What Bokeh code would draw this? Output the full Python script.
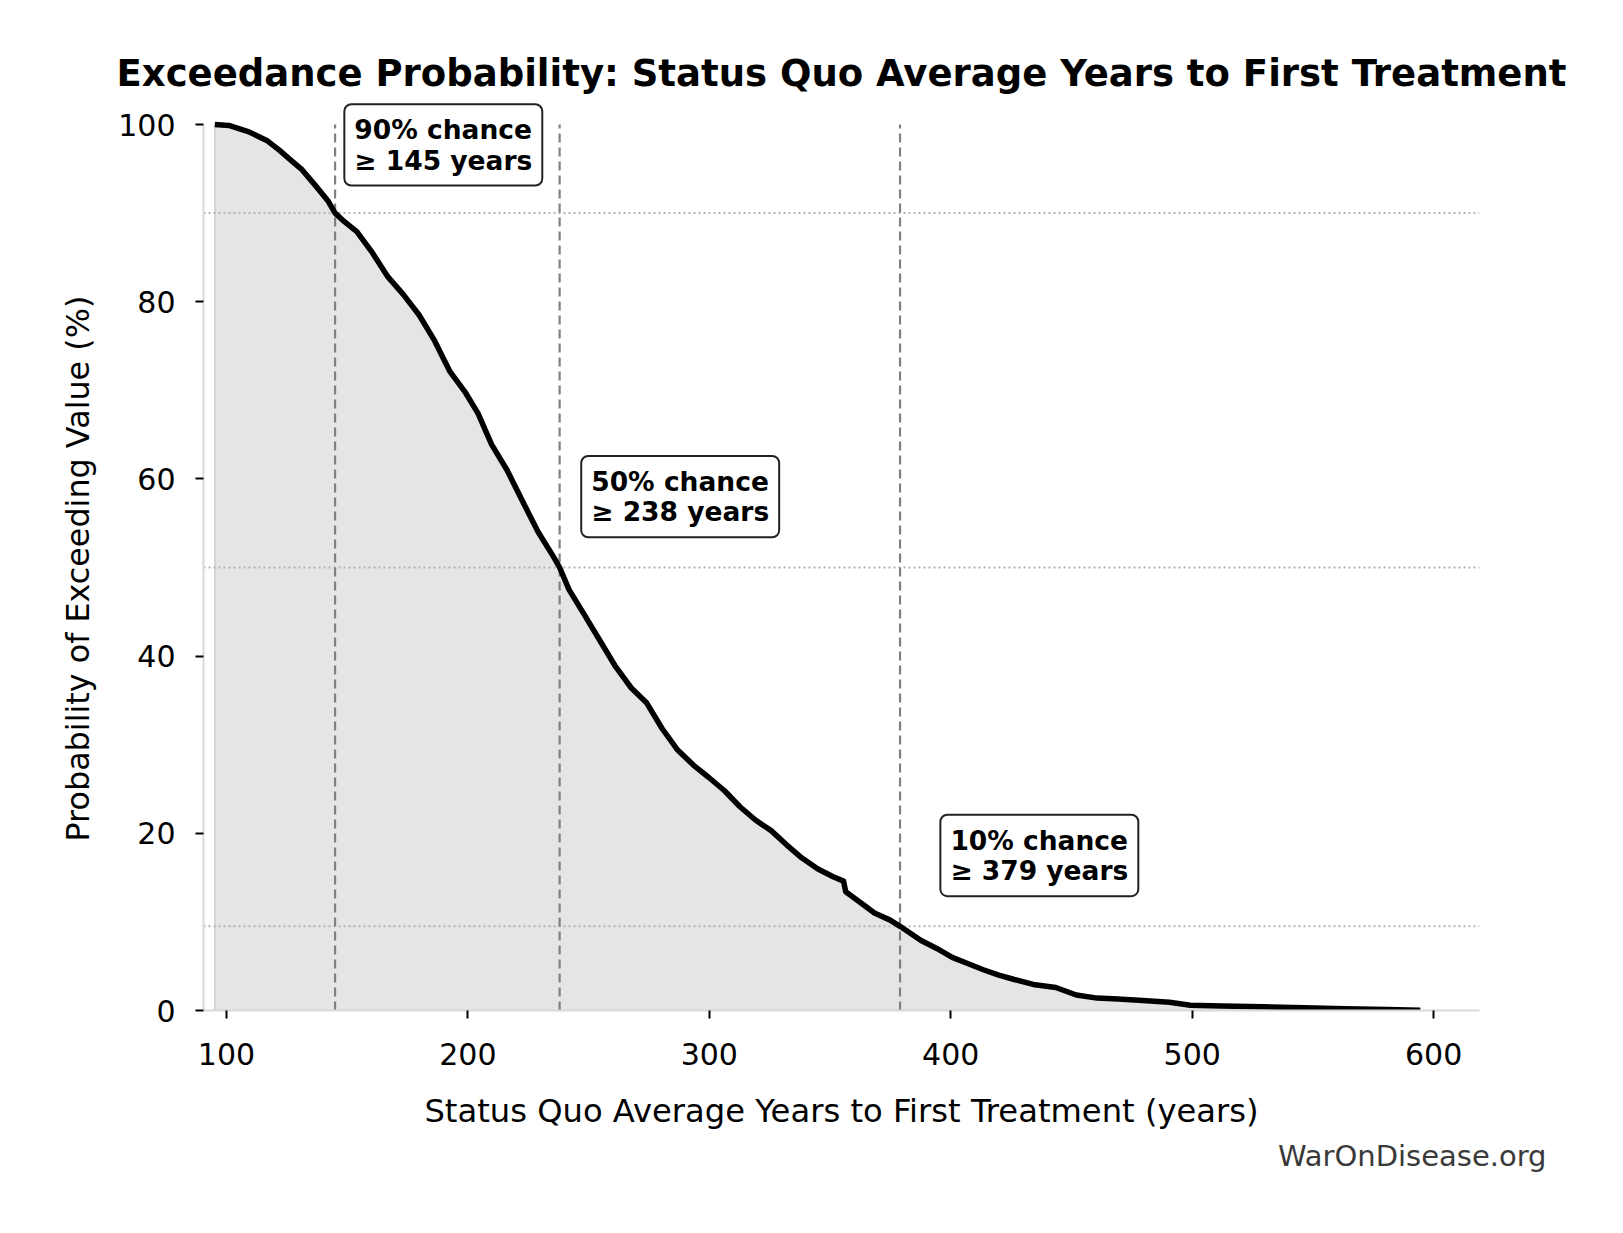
from bokeh.plotting import figure
from bokeh.models import Range1d, FixedTicker, Label, Title
from bokeh.core.properties import value
from bokeh.embed import file_html
from bokeh.resources import INLINE

# ---- data ----
years = [95.2, 101, 109, 116.7, 121.9, 127, 131.3, 136.9, 142, 145, 149, 154, 160.5,
         166.9, 173.3, 179.8, 186.2, 192.6, 199.1, 204.2, 209.8, 216.2, 222.6, 229.1,
         235.5, 238, 241.9, 248.4, 254.8, 261.2, 267.7, 274.1, 280.5, 286.9, 293.4,
         299.8, 306.3, 312.7, 319.1, 325.6, 332, 338.4, 344.8, 351.3, 355.6, 356.5,
         362, 368.4, 374.9, 379, 387.7, 394.2, 400.6, 407, 413.5, 419.9, 426.3, 434.9,
         443.5, 452, 460.6, 469.2, 477.8, 490.6, 499.2, 512, 529.2, 546.4, 563.5,
         580.7, 594.5]
exceed_pct = [100, 99.9, 99.2, 98.2, 97.1, 95.9, 94.9, 93.1, 91.4, 90, 89.0, 87.9, 85.5,
              82.8, 80.8, 78.5, 75.6, 72.1, 69.7, 67.4, 63.9, 61.0, 57.5, 54.0,
              51.2, 50, 47.5, 44.6, 41.7, 38.8, 36.4, 34.7, 31.8, 29.4, 27.7,
              26.3, 24.8, 23.0, 21.5, 20.3, 18.7, 17.2, 16.0, 15.1, 14.6, 13.4,
              12.3, 11.0, 10.2, 9.5, 7.9, 7.0, 6.0, 5.3, 4.6, 4.0, 3.5, 2.9,
              2.6, 1.75, 1.4, 1.3, 1.15, 0.93, 0.6, 0.5, 0.42, 0.3, 0.2,
              0.1, 0.03]
chance_pct = [90, 50, 10]
threshold_years = [145, 238, 379]
ref_levels = [90, 50, 9.5]
x_ticks = [100, 200, 300, 400, 500, 600]
y_ticks = [0, 20, 40, 60, 80, 100]

TITLE = "Exceedance Probability: Status Quo Average Years to First Treatment"
X_LABEL = "Status Quo Average Years to First Treatment (years)"
Y_LABEL = "Probability of Exceeding Value (%)"
FONT = "DejaVu Sans"
X0, X1 = 90.5, 619
Y0, Y1 = 0, 100
W, H = 1600, 1210
BL, BR, BB = 203, 121, 200
BT_AXES = 124                 # where the 100 % line sits
HEAD = 26                     # extra px above 100 % so the top box is not clipped
BT = BT_AXES - HEAD
px_per_y = (H - BT_AXES - BB) / (Y1 - Y0)

p = figure(width=W, height=H, output_backend="svg", toolbar_location=None,
           x_range=Range1d(X0, X1), y_range=Range1d(Y0, Y1 + HEAD / px_per_y),
           min_border_left=BL, min_border_right=BR, min_border_top=BT,
           min_border_bottom=BB)
p.outline_line_color = None
p.grid.visible = False
p.background_fill_color = "white"
p.border_fill_color = "white"

# fill under curve
px = [years[0]] + years + [years[-1]]
py = [0] + exceed_pct + [0]
p.patch(px, py, fill_color="#e5e5e5", line_color="#cfcfcf", line_width=1.5)

# reference lines
n = len(ref_levels)
p.segment(x0=[X0] * n, x1=[X1] * n, y0=ref_levels, y1=ref_levels,
          line_color="#b3b3b3", line_width=2, line_dash="2 3")
m = len(threshold_years)
p.segment(x0=threshold_years, x1=threshold_years, y0=[Y0] * m, y1=[Y1] * m,
          line_color="#808080", line_width=2.2, line_dash="9 5")

# curve
p.line(years, exceed_pct, line_color="black", line_width=5.5, line_join="round")

# annotation boxes
for c, t, lev in zip(chance_pct, threshold_years, ref_levels):
    lab = Label(x=t * 1.055, y=min(lev + 8, 97.7), x_offset=-10,
                text=f"{c}% chance\n\u2265 {t} years",
                text_font=FONT, text_font_style="bold", text_font_size="26.5px",
                text_align="left", text_baseline="middle", text_color="black",
                text_line_height=0.98, anchor="center_left",
                background_fill_color="white", border_line_color="#222222",
                border_line_width=2, border_radius=7, padding=10)
    p.add_layout(lab)

# axes
for ax in (p.xaxis[0], p.yaxis[0]):
    ax.axis_line_color = "#d9d9d9"
    ax.axis_line_width = 2
    ax.major_tick_line_color = "black"
    ax.major_tick_line_width = 2
    ax.major_tick_out = 8
    ax.major_tick_in = 0
    ax.minor_tick_line_color = None
    ax.major_label_text_font = FONT
    ax.major_label_text_font_size = "30px"
    ax.major_label_text_color = "black"
    ax.axis_label_text_font = FONT
    ax.axis_label_text_font_size = "32.2px"
    ax.axis_label_text_font_style = "normal"
    ax.axis_label_text_color = "black"

p.yaxis.bounds = (Y0, Y1)
p.xaxis.ticker = FixedTicker(ticks=x_ticks)
p.yaxis.ticker = FixedTicker(ticks=y_ticks)
p.xaxis.axis_label = X_LABEL
p.xaxis.major_label_standoff = 24
p.yaxis.major_label_standoff = 20
p.xaxis.axis_label_standoff = 24

# y label as a side title, so it can be centred on the 0-100 span of the axis
ylab = Title(text=Y_LABEL, align="left", offset=169, standoff=39,
             text_font=FONT, text_font_size="31.8px", text_font_style="normal",
             text_color="black")
p.add_layout(ylab, "left")

p.title.text = TITLE
p.title.align = "center"
p.title.text_font = FONT
p.title.text_font_style = "bold"
p.title.text_font_size = "37px"
p.title.text_color = "black"
p.title.standoff = 7

wm = Title(text="WarOnDisease.org", align="right", text_font=FONT,
           text_font_size="29px", text_font_style="normal", text_color="#3a3a3a",
           standoff=8, offset=-67)
p.add_layout(wm, "below")

open("out.html", "w").write(file_html(p, INLINE))
